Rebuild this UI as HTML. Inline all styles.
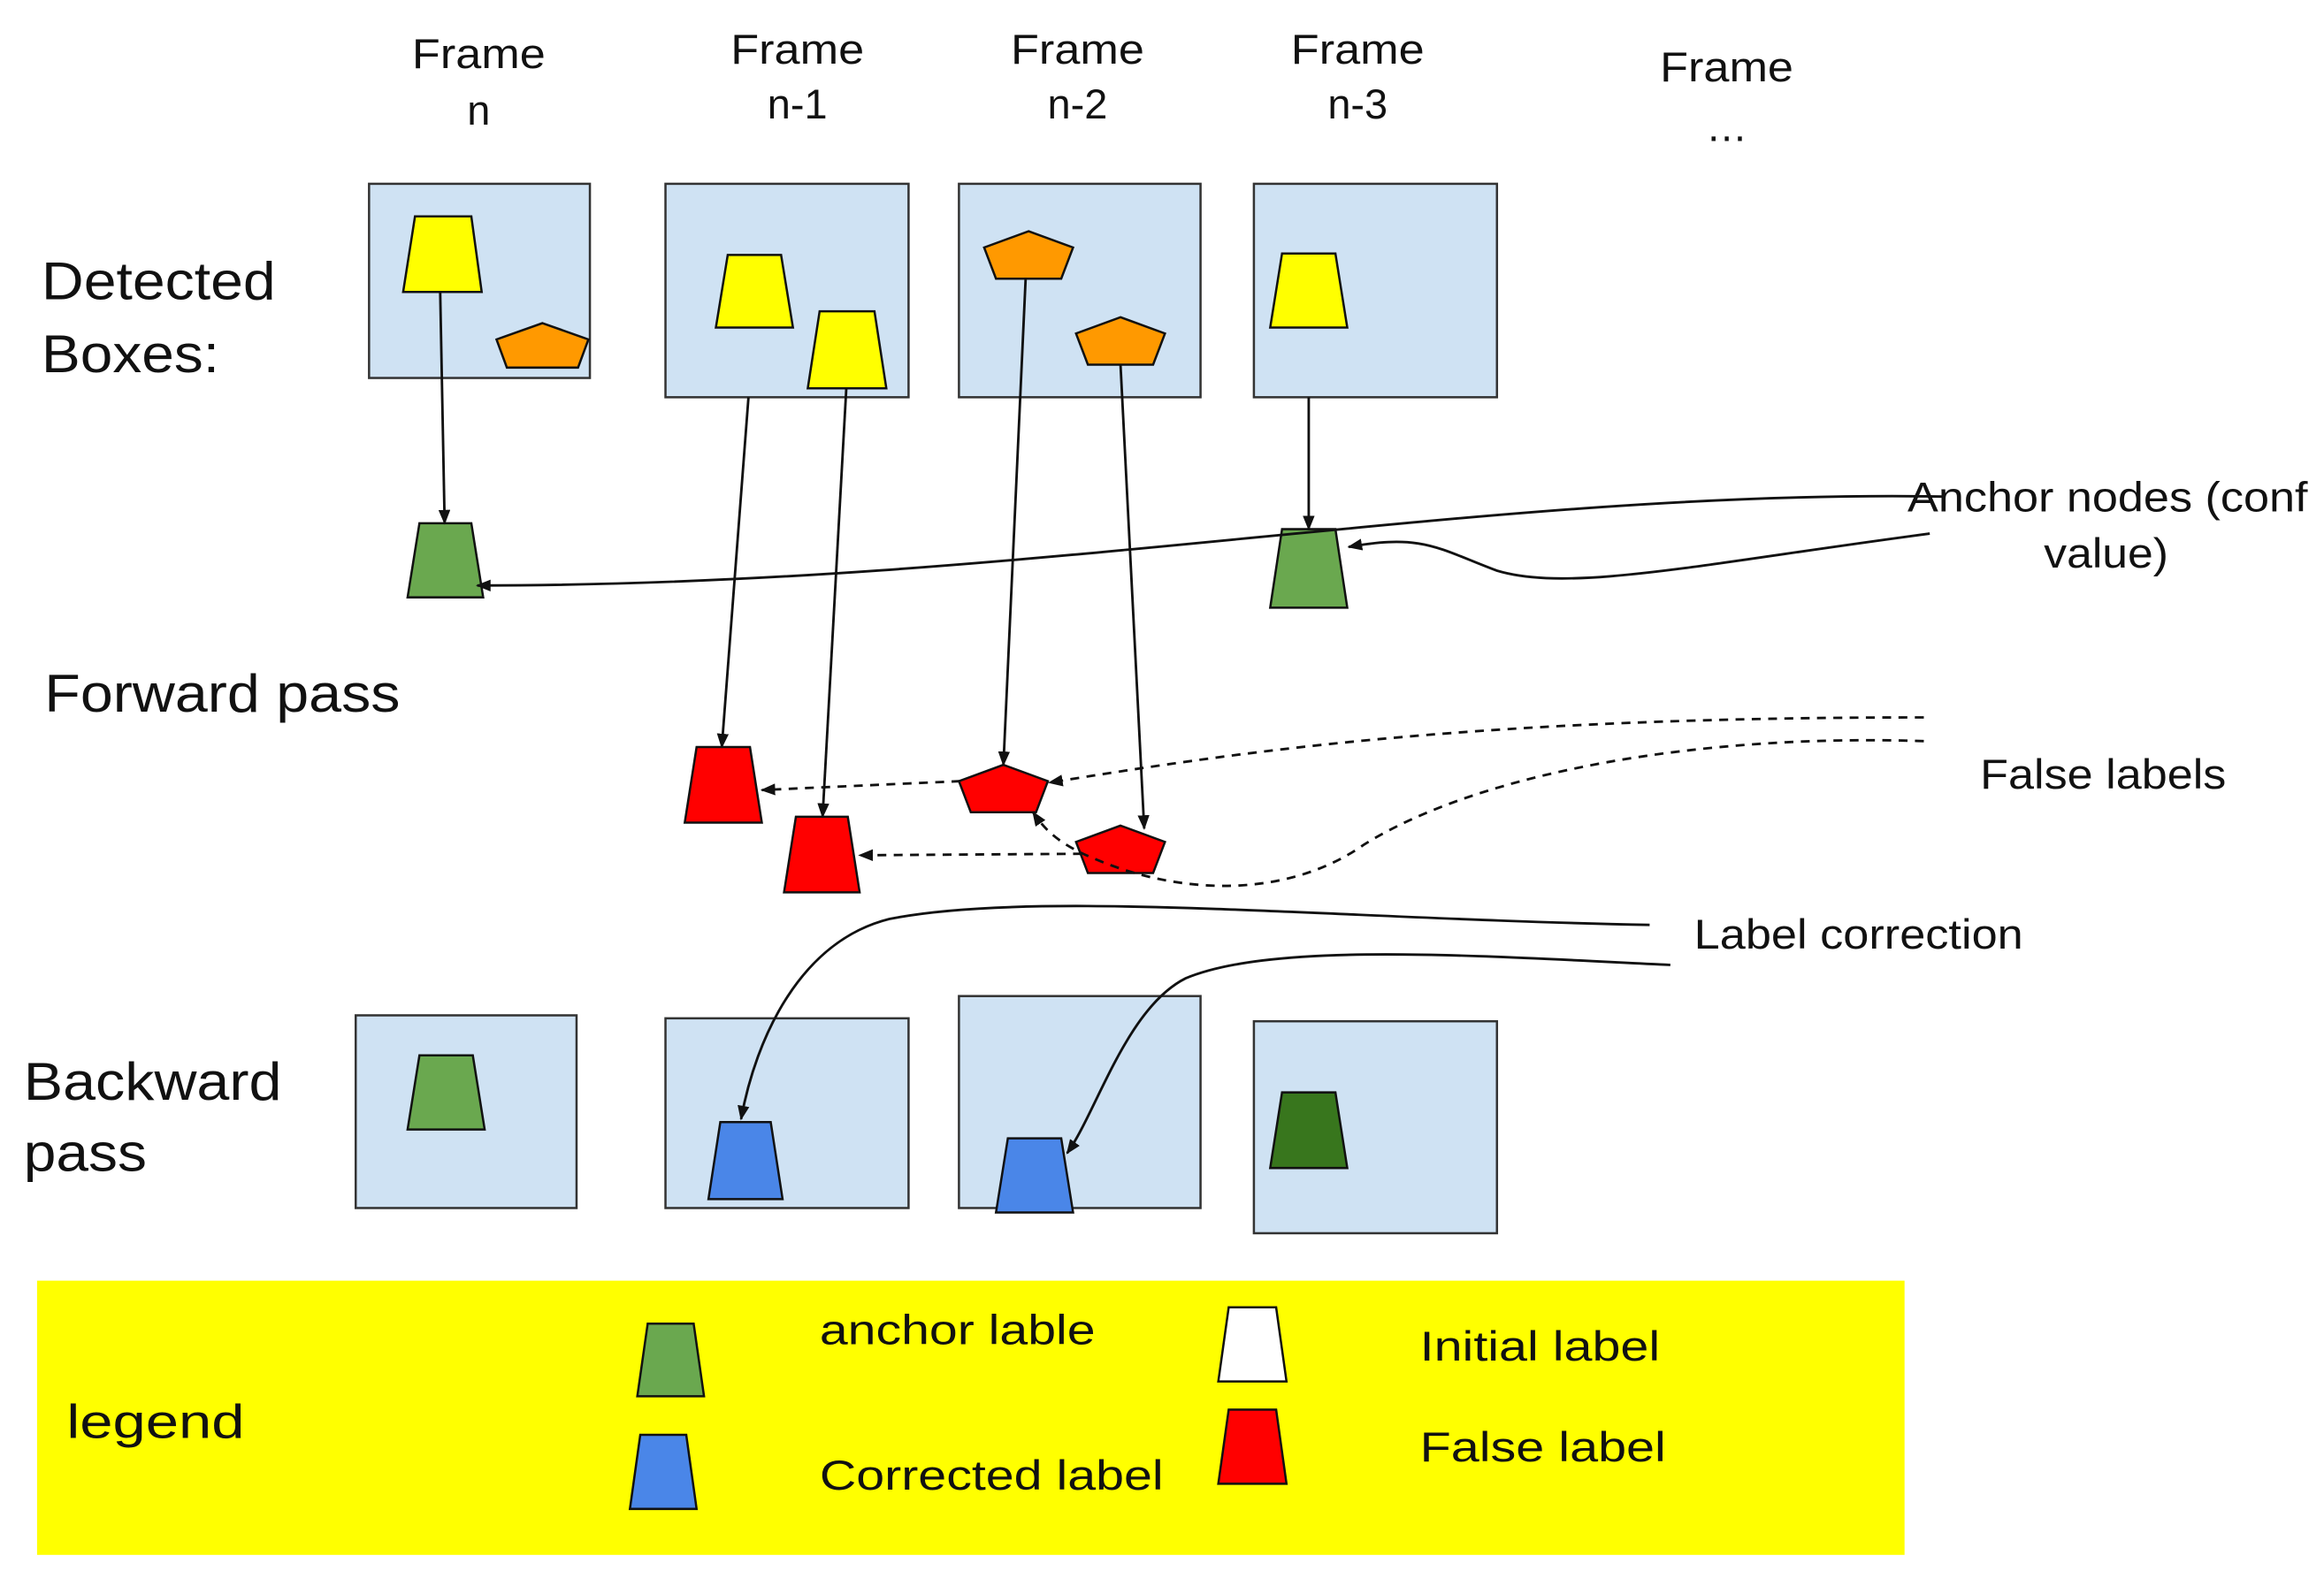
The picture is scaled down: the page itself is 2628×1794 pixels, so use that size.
<!DOCTYPE html>
<html><head><meta charset="utf-8"><style>
html,body{margin:0;padding:0;background:#fff;}
svg{display:block;}
text{font-family:"Liberation Sans",sans-serif;fill:#111;}
</style></head><body>
<svg width="2628" height="1794" viewBox="0 0 1568 1070" preserveAspectRatio="none" xmlns="http://www.w3.org/2000/svg">
<defs>
<marker id="ah" markerWidth="10" markerHeight="8" refX="9" refY="4" orient="auto" markerUnits="userSpaceOnUse"><path d="M0,0 L10,4 L0,8 z" fill="#111"/></marker>
</defs>
<g font-size="28" lengthAdjust="spacingAndGlyphs">
<text x="278" y="46" textLength="90" lengthAdjust="spacingAndGlyphs">Frame</text><text x="323" y="84" text-anchor="middle">n</text>
<text x="493" y="43" textLength="90" lengthAdjust="spacingAndGlyphs">Frame</text><text x="538" y="80" text-anchor="middle">n-1</text>
<text x="682" y="43" textLength="90" lengthAdjust="spacingAndGlyphs">Frame</text><text x="727" y="80" text-anchor="middle">n-2</text>
<text x="871" y="43" textLength="90" lengthAdjust="spacingAndGlyphs">Frame</text><text x="916" y="80" text-anchor="middle">n-3</text>
<text x="1120" y="55" textLength="90" lengthAdjust="spacingAndGlyphs">Frame</text><text x="1165" y="95" text-anchor="middle">…</text>
</g>
<g font-size="36">
<text x="28" y="202" textLength="158" lengthAdjust="spacingAndGlyphs">Detected</text>
<text x="28" y="251" textLength="120" lengthAdjust="spacingAndGlyphs">Boxes:</text>
<text x="30" y="480" textLength="240" lengthAdjust="spacingAndGlyphs">Forward pass</text>
<text x="16" y="742" textLength="174" lengthAdjust="spacingAndGlyphs">Backward</text>
<text x="16" y="790" textLength="83" lengthAdjust="spacingAndGlyphs">pass</text>
</g>
<g font-size="28">
<text x="1287" y="345" textLength="270" lengthAdjust="spacingAndGlyphs">Anchor nodes (conf</text>
<text x="1379" y="383" textLength="84" lengthAdjust="spacingAndGlyphs">value)</text>
<text x="1336" y="532" textLength="166" lengthAdjust="spacingAndGlyphs">False labels</text>
<text x="1143" y="640" textLength="222" lengthAdjust="spacingAndGlyphs">Label correction</text>
</g>
<g fill="#cfe2f3" stroke="#333" stroke-width="1.5">
<rect x="249" y="124" width="149" height="131"/>
<rect x="449" y="124" width="164" height="144"/>
<rect x="647" y="124" width="163" height="144"/>
<rect x="846" y="124" width="164" height="144"/>
<rect x="240" y="685" width="149" height="130"/>
<rect x="449" y="687" width="164" height="128"/>
<rect x="647" y="672" width="163" height="143"/>
<rect x="846" y="689" width="164" height="143"/>
</g>
<g stroke="#111" stroke-width="1.5">
<path d="M280,146 L318,146 L325,197 L272,197 Z" fill="#ffff00"/>
<path d="M491,172 L527,172 L535,221 L483,221 Z" fill="#ffff00"/>
<path d="M553,210 L590,210 L598,262 L545,262 Z" fill="#ffff00"/>
<path d="M865,171 L901,171 L909,221 L857,221 Z" fill="#ffff00"/>
<path d="M366,218 L397,229 L390,248 L342,248 L335,229 Z" fill="#ff9900"/>
<path d="M694,156 L724,167 L716,188 L672,188 L664,167 Z" fill="#ff9900"/>
<path d="M756,214 L786,225 L778,246 L734,246 L726,225 Z" fill="#ff9900"/>
<path d="M283,353 L318,353 L326,403 L275,403 Z" fill="#6aa84f"/>
<path d="M865,357 L901,357 L909,410 L857,410 Z" fill="#6aa84f"/>
<path d="M470,504 L506,504 L514,555 L462,555 Z" fill="#ff0000"/>
<path d="M537,551 L572,551 L580,602 L529,602 Z" fill="#ff0000"/>
<path d="M677,516 L707,527 L699,548 L655,548 L647,527 Z" fill="#ff0000"/>
<path d="M756,557 L786,568 L778,589 L734,589 L726,568 Z" fill="#ff0000"/>
<path d="M283,712 L319,712 L327,762 L275,762 Z" fill="#6aa84f"/>
<path d="M486,757 L520,757 L528,809 L478,809 Z" fill="#4a86e8"/>
<path d="M680,768 L716,768 L724,818 L672,818 Z" fill="#4a86e8"/>
<path d="M865,737 L901,737 L909,788 L857,788 Z" fill="#38761d"/>
</g>
<g stroke="#111" stroke-width="1.7" fill="none" marker-end="url(#ah)">
<line x1="297" y1="197" x2="300" y2="353"/>
<line x1="883" y1="268" x2="883" y2="357"/>
<line x1="505" y1="268" x2="487" y2="504"/>
<line x1="571" y1="262" x2="555" y2="551"/>
<line x1="692" y1="188" x2="677" y2="516"/>
<line x1="756" y1="246" x2="772" y2="559"/>
<path d="M1310,335 C1000,330 700,395 322,395"/>
<path d="M1302,360 C1150,380 1060,400 1010,385 C970,370 960,360 910,369"/>
<path d="M1113,624 C900,620 700,600 600,620 C540,635 510,700 500,755"/>
<path d="M1127,651 C1000,645 860,635 800,660 C760,680 740,750 720,778"/>
</g>
<g stroke="#111" stroke-width="1.7" fill="none" stroke-dasharray="6,5" marker-end="url(#ah)">
<line x1="648" y1="527" x2="514" y2="533"/>
<line x1="730" y1="576" x2="580" y2="577"/>
<path d="M1298,484 C1000,484 850,505 708,528"/>
<path d="M1298,500 C1150,495 1000,520 920,570 C870,605 800,605 740,580 C715,570 705,560 697,548"/>
</g>
<rect x="25" y="864" width="1260" height="185" fill="#ffff00"/>
<text x="45" y="970" font-size="32" textLength="120" lengthAdjust="spacingAndGlyphs">legend</text>
<g font-size="28">
<text x="553" y="907" textLength="186" lengthAdjust="spacingAndGlyphs">anchor lable</text>
<text x="553" y="1005" textLength="232" lengthAdjust="spacingAndGlyphs">Corrected label</text>
<text x="958" y="918" textLength="162" lengthAdjust="spacingAndGlyphs">Initial label</text>
<text x="958" y="986" textLength="166" lengthAdjust="spacingAndGlyphs">False label</text>
</g>
<g stroke="#111" stroke-width="1.5">
<path d="M437,893 L468,893 L475,942 L430,942 Z" fill="#6aa84f"/>
<path d="M432,968 L463,968 L470,1018 L425,1018 Z" fill="#4a86e8"/>
<path d="M829,882 L861,882 L868,932 L822,932 Z" fill="#ffffff"/>
<path d="M829,951 L861,951 L868,1001 L822,1001 Z" fill="#ff0000"/>
</g>
</svg>
</body></html>
